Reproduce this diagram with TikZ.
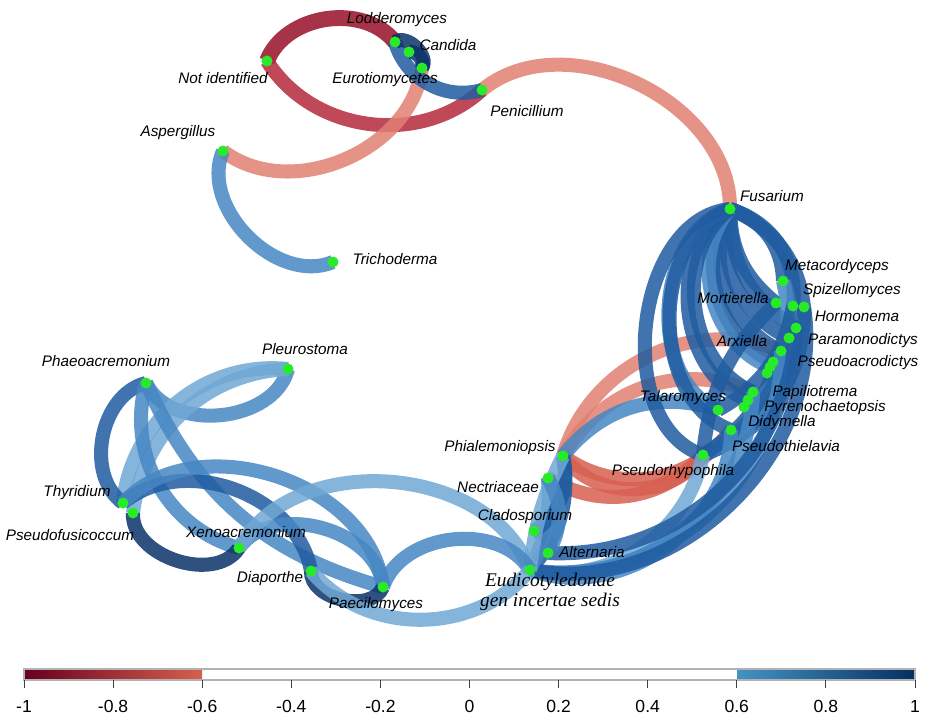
\documentclass[tikz,border=0pt]{standalone}
\usepackage{fontspec}
\setmainfont{Liberation Sans}
\newfontfamily\latinserif{Liberation Serif}
\usetikzlibrary{backgrounds}
\definecolor{dotgreen}{RGB}{40,235,40}
\definecolor{rdD}{RGB}{150,15,40}
\definecolor{rdM}{RGB}{180,40,60}
\definecolor{rdS}{RGB}{215,95,80}
\definecolor{salm}{RGB}{224,128,113}
\definecolor{bL}{RGB}{112,168,212}
\definecolor{bM}{RGB}{70,135,195}
\definecolor{bD}{RGB}{32,92,160}
\definecolor{bN}{RGB}{10,50,105}
\definecolor{cbA}{RGB}{103,0,31}
\definecolor{cbB}{RGB}{214,96,77}
\definecolor{cbC}{RGB}{67,147,195}
\definecolor{cbD}{RGB}{5,48,97}
\begin{document}
\begin{tikzpicture}[x=0.02cm, y=-0.02cm,
% common options for the taxa:
dot/.style = {circle, fill=dotgreen, inner sep=0, minimum size=0.22cm},
lab/.style = {font=\fontsize{8.7}{10}\selectfont\itshape, inner sep=0},
% common options for the links:
lnk/.style = {line width=8pt, opacity=0.85},
tick/.style = {draw=black!75, line width=0.5pt}]
\useasboundingbox (0,0) rectangle (927,723);
% taxa
\node[dot] (lodd) at (395,42) {};
\node[dot] (cand) at (409,52) {};
\node[dot] (euro) at (422,68) {};
\node[dot] (notid) at (267,61) {};
\node[dot] (penic) at (482,90) {};
\node[dot] (asp) at (223,151) {};
\node[dot] (trich) at (333,262) {};
\node[dot] (fus) at (730,209) {};
\node[dot] (meta) at (783,281) {};
\node[dot] (mort) at (776,303) {};
\node[dot] (spiz) at (793,306) {};
\node[dot] (horm) at (804,307) {};
\node[dot] (para) at (796,328) {};
\node[dot] (arx) at (789,338) {};
\node[dot] (pacr) at (781,351) {};
\node[dot] (pac2) at (773,362) {};
\node[dot] (pac3) at (770,367) {};
\node[dot] (pac4) at (767,373) {};
\node[dot] (papi) at (753,392) {};
\node[dot] (pyre) at (748,400) {};
\node[dot] (didy) at (744,407) {};
\node[dot] (tala) at (718,410) {};
\node[dot] (pthi) at (731,430) {};
\node[dot] (prhy) at (703,455) {};
\node[dot] (phial) at (563,456) {};
\node[dot] (nect) at (548,478) {};
\node[dot] (clado) at (534,531) {};
\node[dot] (alt) at (548,553) {};
\node[dot] (eudi) at (530,570) {};
\node[dot] (paec) at (383,587) {};
\node[dot] (diap) at (311,571) {};
\node[dot] (xeno) at (239,548) {};
\node[dot] (thyr) at (123,503) {};
\node[dot] (pfus) at (133,513) {};
\node[dot] (phaeo) at (146,383) {};
\node[dot] (pleu) at (288,369) {};
% names
\node[lab] (t-lodd) at (397,20) {Lodderomyces};
\node[lab] (t-cand) at (448,45) {Candida};
\node[lab] (t-euro) at (385,80) {Eurotiomycetes};
\node[lab] (t-notid) at (223,78) {Not identified};
\node[lab] (t-penic) at (527,111) {Penicillium};
\node[lab] (t-asp) at (178,133) {Aspergillus};
\node[lab] (t-trich) at (395,259) {Trichoderma};
\node[lab] (t-fus) at (772,196) {Fusarium};
\node[lab] (t-meta) at (837,267) {Metacordyceps};
\node[lab] (t-spiz) at (852,291) {Spizellomyces};
\node[lab] (t-mort) at (733,298) {Mortierella};
\node[lab] (t-horm) at (857,316) {Hormonema};
\node[lab] (t-arx) at (742,341) {Arxiella};
\node[lab] (t-para) at (863,341) {Paramonodictys};
\node[lab] (t-pacr) at (858,363) {Pseudoacrodictys};
\node[lab] (t-papi) at (815,393) {Papiliotrema};
\node[lab] (t-pyre) at (825,408) {Pyrenochaetopsis};
\node[lab] (t-didy) at (782,423) {Didymella};
\node[lab] (t-tala) at (683,398) {Talaromyces};
\node[lab] (t-pthi) at (786,446) {Pseudothielavia};
\node[lab] (t-prhy) at (673,472) {Pseudorhypophila};
\node[lab] (t-phial) at (500,448) {Phialemoniopsis};
\node[lab] (t-nect) at (498,487) {Nectriaceae};
\node[lab] (t-clado) at (525,517) {Cladosporium};
\node[lab] (t-alt) at (592,552) {Alternaria};
\node[align=center, inner sep=0, font=\latinserif\fontsize{11}{11.5}\selectfont\itshape] (t-eudi) at (550,592) {Eudicotyledonae\\gen incertae sedis};
\node[lab] (t-paec) at (376,605) {Paecilomyces};
\node[lab] (t-diap) at (270,579) {Diaporthe};
\node[lab] (t-xeno) at (246,532) {Xenoacremonium};
\node[lab] (t-thyr) at (77,493) {Thyridium};
\node[lab] (t-pfus) at (70,535) {Pseudofusicoccum};
\node[lab] (t-phaeo) at (106,361) {Phaeoacremonium};
\node[lab] (t-pleu) at (305,349) {Pleurostoma};
% links
\begin{scope}[on background layer]
% top group
\draw[lnk, rdD, line width=9pt] (notid.center) to[bend left=60] (lodd.center);
\draw[lnk, rdM] (notid.center) to[bend right=50] (penic.center);
\draw[lnk, salm] (euro.center) to[bend left=60] (asp.center);
\draw[lnk, salm] (penic.center) to[bend left=65] (fus.center);
\draw[lnk, bD] (lodd.center) to[bend right=45] (penic.center);
\draw[lnk, bN] (lodd.center) to[bend left=80] (euro.center);
\draw[lnk, bN] (cand.center) to[bend left=60] (euro.center);
\draw[lnk, bM] (asp.center) to[bend right=68] (trich.center);
% Phialemoniopsis, red links below the blue ones
\draw[lnk, salm] (phial.center) to[bend left=48] (pacr.center);
\draw[lnk, salm] (phial.center) to[bend left=42] (papi.center);
\draw[lnk, rdS] (phial.center) to[bend right=55] (prhy.center);
\draw[lnk, rdS] (nect.center) to[bend right=40] (prhy.center);
\draw[lnk, rdS] (phial.center) to[bend right=45] (pthi.center);
\draw[lnk, bM] (phial.center) to[bend left=35] (tala.center);
% Fusarium bundle
\draw[lnk, bD] (fus.center) to[bend left=35] (meta.center);
\draw[lnk, bD] (fus.center) to[bend left=40] (spiz.center);
\draw[lnk, bD] (fus.center) to[bend left=30] (horm.center);
\draw[lnk, bD] (fus.center) to[bend right=25] (mort.center);
\draw[lnk, bD] (fus.center) to[bend right=30] (para.center);
\draw[lnk, bD] (fus.center) to[bend right=40] (arx.center);
\draw[lnk, bD] (fus.center) to[bend right=45] (pacr.center);
\draw[lnk, bD] (fus.center) to[bend right=50] (pac2.center);
\draw[lnk, bM] (fus.center) to[bend right=55] (pac3.center);
\draw[lnk, bD] (fus.center) to[bend right=60] (papi.center);
\draw[lnk, bD] (fus.center) to[bend right=65] (pyre.center);
\draw[lnk, bM] (fus.center) to[bend right=70] (tala.center);
\draw[lnk, bD] (fus.center) to[bend right=70] (pthi.center);
\draw[lnk, bD] (fus.center) to[bend right=78] (prhy.center);
% Pseudorhypophila bundle
\draw[lnk, bD] (prhy.center) to[bend right=35] (horm.center);
\draw[lnk, bD] (prhy.center) to[bend right=30] (para.center);
\draw[lnk, bM] (prhy.center) to[bend right=38] (meta.center);
\draw[lnk, bD] (prhy.center) to[bend right=20] (pacr.center);
\draw[lnk, bD] (prhy.center) to[bend left=20] (mort.center);
\draw[lnk, bD] (tala.center) to[bend right=25] (spiz.center);
% Eudicotyledonae and Alternaria bundle
\draw[lnk, bL] (eudi.center) to[bend right=45] (prhy.center);
\draw[lnk, bM] (eudi.center) to[bend right=55] (pthi.center);
\draw[lnk, bM] (eudi.center) to[bend right=50] (papi.center);
\draw[lnk, bM] (eudi.center) to[bend right=50] (pacr.center);
\draw[lnk, bD] (eudi.center) to[bend right=55] (horm.center);
\draw[lnk, bD] (alt.center) to[bend right=45] (para.center);
% small group
\draw[lnk, bN] (clado.center) to[bend left=70] (alt.center);
\draw[lnk, bD] (eudi.center) to[bend right=25] (phial.center);
\draw[lnk, bM] (eudi.center) to[bend right=15] (nect.center);
\draw[lnk, bD] (clado.center) to[bend right=35] (phial.center);
\draw[lnk, bL] (eudi.center) to[bend left=10] (phial.center);
\draw[lnk, bM] (alt.center) to[bend right=30] (nect.center);
% left group
\draw[lnk, bM] (phaeo.center) to[bend right=70] (pleu.center);
\draw[lnk, bL] (pleu.center) to[bend right=45] (thyr.center);
\draw[lnk, bL] (pleu.center) to[bend right=40] (pfus.center);
\draw[lnk, bD] (phaeo.center) to[bend right=65] (thyr.center);
\draw[lnk, bM] (phaeo.center) to[bend right=45] (xeno.center);
\draw[lnk, bM] (phaeo.center) to[bend right=25] (paec.center);
\draw[lnk, bD] (thyr.center) to[bend left=60] (diap.center);
\draw[lnk, bM] (thyr.center) to[bend left=65] (paec.center);
\draw[lnk, bN] (pfus.center) to[bend right=75] (xeno.center);
\draw[lnk, bM] (xeno.center) to[bend left=70] (paec.center);
\draw[lnk, bN] (diap.center) to[bend right=80] (paec.center);
\draw[lnk, bL] (xeno.center) to[bend left=65] (eudi.center);
\draw[lnk, bM] (paec.center) to[bend left=65] (eudi.center);
\draw[lnk, bL] (diap.center) to[bend right=50] (eudi.center);
\end{scope}
% colour key
\shade[left color=cbA, right color=cbB] (24,669) rectangle (202,680);
\shade[left color=cbC, right color=cbD] (737,669) rectangle (915,680);
\draw[gray!60, line width=0.6pt] (24,669) rectangle (915,680);
\foreach \v [count=\i from 0] in {-1,-0.8,-0.6,-0.4,-0.2,0,0.2,0.4,0.6,0.8,1} {
  \draw[tick] (24+\i*89.1,680) -- (24+\i*89.1,688);
  \node[font=\fontsize{10}{12}\selectfont] (k\i) at (24+\i*89.1,706) {\v};
}
\end{tikzpicture}
\end{document}
